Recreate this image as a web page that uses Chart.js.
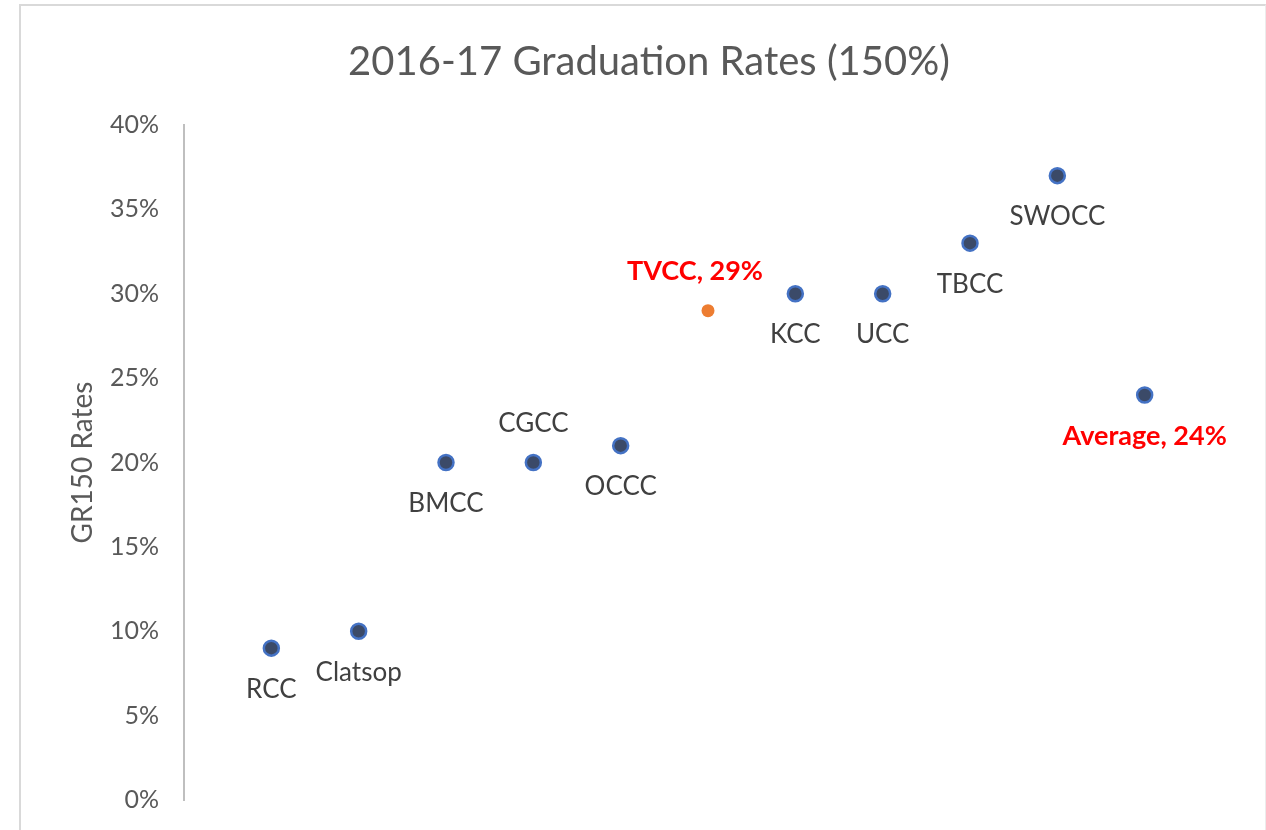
<!DOCTYPE html>
<html>
<head>
<meta charset="utf-8">
<script src="https://cdn.jsdelivr.net/npm/chart.js@4"></script>
<style>
  body { margin: 0; background: #fff; }
  #frame { position: absolute; left: 19px; top: 4px; width: 1244px; height: 830px;
           border-top: 2px solid #d9d9d9; border-left: 2px solid #d9d9d9; border-right: 1px solid #ececec; }
  #gradRates { position: absolute; left: 0; top: 0; }
</style>
</head>
<body>
<div id="frame"></div>
<canvas id="gradRates" width="1266" height="830"></canvas>
<script>
const colleges = ['RCC', 'Clatsop', 'BMCC', 'CGCC', 'OCCC', 'TVCC', 'KCC', 'UCC', 'TBCC', 'SWOCC', 'Average'];
const rates = [9, 10, 20, 20, 21, 29, 30, 30, 33, 37, 24];
const yTicks = [0, 5, 10, 15, 20, 25, 30, 35, 40];
const highlighted = ['TVCC', 'Average'];
const orangePoint = 'TVCC';
// where each label sits relative to its point
const labelAbove = ['CGCC', 'TVCC'];

const pts = colleges.map((c, i) => ({ x: i + 1, y: rates[i], name: c }));

const pointLabels = {
  id: 'pointLabels',
  afterDatasetsDraw(chart) {
    const ctx = chart.ctx;
    ctx.save();
    ctx.textAlign = 'center';
    ctx.textBaseline = 'middle';
    chart.data.datasets.forEach((ds, di) => {
      chart.getDatasetMeta(di).data.forEach((el, i) => {
        const p = ds.data[i];
        const hi = highlighted.includes(p.name);
        const txt = hi ? p.name + ', ' + p.y + '%' : p.name;
        ctx.font = hi ? 'bold 27px Lato' : '26px Lato';
        ctx.fillStyle = hi ? '#ff0000' : '#404040';
        const dy = labelAbove.includes(p.name) ? -39 : 41;
        const dx = p.name === 'TVCC' ? -13 : 0;
        ctx.fillText(txt, el.x + dx, el.y + dy);
      });
    });
    ctx.restore();
  }
};

new Chart(document.getElementById('gradRates'), {
  type: 'scatter',
  data: {
    datasets: [{
      label: 'Colleges',
      data: pts.filter(p => p.name !== orangePoint),
      pointRadius: 7.5,
      pointBorderWidth: 2.5,
      pointBackgroundColor: '#3b4a68',
      pointBorderColor: '#4472c4'
    },
    {
      label: 'TVCC',
      data: pts.filter(p => p.name === orangePoint),
      pointRadius: 6.5,
      pointBorderWidth: 0,
      pointBackgroundColor: '#ed7d31',
      pointBorderColor: '#ed7d31'
    }]
  },
  options: {
    responsive: false,
    animation: false,
    layout: { padding: { left: 66, right: 34, top: 0, bottom: 30 } },
    plugins: {
      legend: { display: false },
      tooltip: { enabled: false },
      title: {
        display: true,
        text: '2016-17 Graduation Rates (150%)',
        color: '#595959',
        font: { family: 'Lato', size: 40, weight: 'normal' },
        padding: { top: 38, bottom: 39 }
      }
    },
    scales: {
      x: {
        type: 'linear',
        min: 0,
        max: 12,
        display: false
      },
      y: {
        min: 0,
        max: 40,
        afterBuildTicks: axis => { axis.ticks = yTicks.map(v => ({ value: v })); },
        afterFit: axis => { axis.width = 118; axis.paddingTop = 0; axis.paddingBottom = 0; },
        ticks: {
          color: '#595959',
          font: { family: 'Lato', size: 25 },
          padding: 25,
          callback: v => v + '%'
        },
        grid: { display: false, drawTicks: false },
        border: { display: true, color: '#bfbfbf', width: 2 },
        title: {
          display: true,
          text: 'GR150 Rates',
          color: '#595959',
          font: { family: 'Lato', size: 28 },
          padding: 0
        }
      }
    }
  },
  plugins: [pointLabels]
});
</script>
</body>
</html>
